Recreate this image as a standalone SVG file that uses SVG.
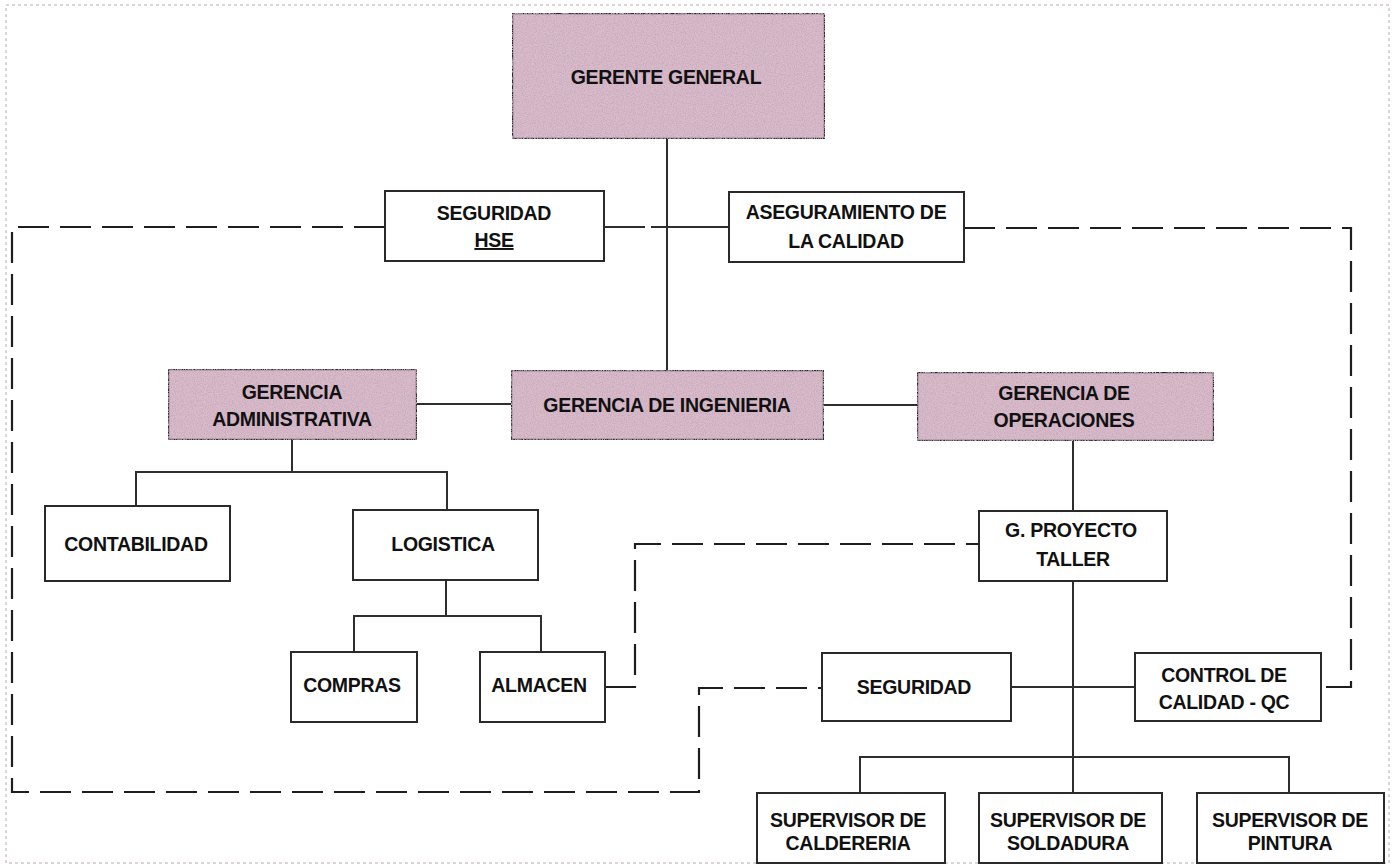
<svg xmlns="http://www.w3.org/2000/svg" width="1400" height="866" viewBox="0 0 1400 866">
<style>
  .box { fill: #ffffff; stroke: #2a2a2a; stroke-width: 2; }
  .pink { fill: #dbbacb; stroke: #2a2a2a; stroke-width: 2.5; }
  .t { font-family: "Liberation Sans", Arial, sans-serif; font-weight: bold; font-size: 19.5px; letter-spacing: -0.3px; fill: #111; text-anchor: middle; }
  .solid { fill: none; stroke: #2e2e2e; stroke-width: 2; }
  .dash { fill: none; stroke: #1e1e1e; stroke-width: 2.2; stroke-dasharray: 31 11; }
  .border { fill: none; stroke: #b9aab3; stroke-width: 1; stroke-dasharray: 3 3; }
</style>
<defs>
  <filter id="grain" x="0" y="0" width="100%" height="100%">
    <feTurbulence type="fractalNoise" baseFrequency="0.9" numOctaves="2" seed="4" result="n"/>
    <feColorMatrix in="n" type="matrix" values="0 0 0 0 0.55  0 0 0 0 0.42  0 0 0 0 0.50  3 0 0 0 -1.2" result="s"/>
    <feComposite in="s" in2="SourceGraphic" operator="in" result="tex"/>
    <feMerge><feMergeNode in="SourceGraphic"/><feMergeNode in="tex"/></feMerge>
  </filter>
</defs>
<rect width="1400" height="866" fill="#ffffff"/>
<rect class="border" x="6" y="5" width="1383" height="858"/>

<g id="connectors">
  <path class="solid" d="M667,139 V370"/>
  <path class="solid" d="M604,227 H645 M651,227 H729"/>
  <path class="solid" d="M417,404 H511 M824,405 H917"/>
  <path class="solid" d="M292,440 V472 H136 V506 M136,472 H447 V510"/>
  <path class="solid" d="M446,580 V616 H354 V652 M446,616 H541 V652"/>
  <path class="solid" d="M1073,441 V511"/>
  <path class="solid" d="M1073,581 V793 M1011,687 H1135 M860,793 V757 H1289 V793"/>
  <path class="dash" d="M385,227 H12 V792 H699 V688 H822"/>
  <path class="dash" d="M964,228 H1351 V687 H1321"/>
  <path class="dash" d="M605,687 H635 V544 H979"/>
</g>

<g id="gerente-general">
  <rect class="pink" x="512" y="13" width="313" height="126" filter="url(#grain)"/>
  <text class="t" x="666" y="84">GERENTE GENERAL</text>
</g>
<g id="seguridad-hse">
  <rect class="box" x="385" y="191" width="219" height="70"/>
  <text class="t" x="494" y="220">SEGURIDAD</text>
  <text class="t" x="494" y="247" text-decoration="underline">HSE</text>
</g>
<g id="aseguramiento-calidad">
  <rect class="box" x="729" y="192" width="235" height="70"/>
  <text class="t" x="846" y="219">ASEGURAMIENTO DE</text>
  <text class="t" x="846" y="248">LA CALIDAD</text>
</g>
<g id="gerencia-administrativa">
  <rect class="pink" x="168" y="369" width="249" height="71" filter="url(#grain)"/>
  <text class="t" x="292" y="399">GERENCIA</text>
  <text class="t" x="292" y="426">ADMINISTRATIVA</text>
</g>
<g id="gerencia-ingenieria">
  <rect class="pink" x="511" y="370" width="313" height="70" filter="url(#grain)"/>
  <text class="t" x="667" y="412">GERENCIA DE INGENIERIA</text>
</g>
<g id="gerencia-operaciones">
  <rect class="pink" x="917" y="372" width="297" height="69" filter="url(#grain)"/>
  <text class="t" x="1064" y="400">GERENCIA DE</text>
  <text class="t" x="1064" y="427">OPERACIONES</text>
</g>
<g id="contabilidad">
  <rect class="box" x="45" y="506" width="185" height="75"/>
  <text class="t" x="136" y="551">CONTABILIDAD</text>
</g>
<g id="logistica">
  <rect class="box" x="353" y="510" width="185" height="70"/>
  <text class="t" x="443" y="551">LOGISTICA</text>
</g>
<g id="compras">
  <rect class="box" x="291" y="652" width="126" height="70"/>
  <text class="t" x="352" y="692">COMPRAS</text>
</g>
<g id="almacen">
  <rect class="box" x="480" y="652" width="125" height="70"/>
  <text class="t" x="539" y="692">ALMACEN</text>
</g>
<g id="g-proyecto-taller">
  <rect class="box" x="979" y="511" width="188" height="70"/>
  <text class="t" x="1071" y="537">G. PROYECTO</text>
  <text class="t" x="1073" y="566">TALLER</text>
</g>
<g id="seguridad">
  <rect class="box" x="822" y="653" width="189" height="68"/>
  <text class="t" x="914" y="694">SEGURIDAD</text>
</g>
<g id="control-calidad">
  <rect class="box" x="1135" y="653" width="186" height="68"/>
  <text class="t" x="1224" y="682">CONTROL DE</text>
  <text class="t" x="1224" y="709">CALIDAD - QC</text>
</g>
<g id="supervisor-caldereria">
  <rect class="box" x="757" y="793" width="188" height="70"/>
  <text class="t" x="848" y="827">SUPERVISOR DE</text>
  <text class="t" x="848" y="850">CALDERERIA</text>
</g>
<g id="supervisor-soldadura">
  <rect class="box" x="979" y="793" width="183" height="70"/>
  <text class="t" x="1068" y="827">SUPERVISOR DE</text>
  <text class="t" x="1068" y="850">SOLDADURA</text>
</g>
<g id="supervisor-pintura">
  <rect class="box" x="1197" y="793" width="187" height="70"/>
  <text class="t" x="1290" y="827">SUPERVISOR DE</text>
  <text class="t" x="1290" y="850">PINTURA</text>
</g>
</svg>
